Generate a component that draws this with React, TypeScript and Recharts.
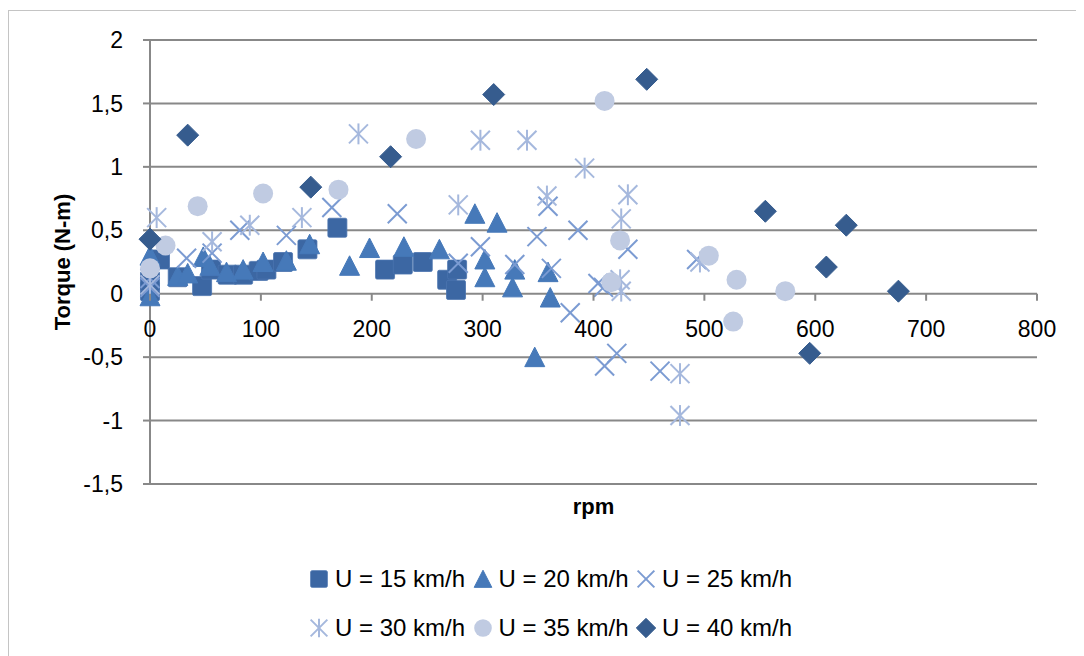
import React from 'react';
import { ScatterChart, Scatter, XAxis, YAxis, CartesianGrid, Legend } from 'recharts';

// ---- data (rpm, torque in N-m) ----
const rpm15 = [0, 0, 9, 25, 47, 55, 70, 84, 98, 105, 120, 142, 169, 212, 228, 246, 268, 276, 277];
const torque15 = [0.02, 0.1, 0.27, 0.13, 0.06, 0.19, 0.15, 0.15, 0.18, 0.19, 0.25, 0.35, 0.52, 0.19, 0.23, 0.25, 0.11, 0.03, 0.19];

const rpm20 = [0, 0, 25, 34, 48, 54, 69, 84, 102, 123, 144, 180, 198, 229, 261, 293, 302, 302, 313, 327, 329, 347, 359, 361];
const torque20 = [-0.02, 0.3, 0.14, 0.16, 0.29, 0.22, 0.17, 0.19, 0.25, 0.26, 0.39, 0.22, 0.36, 0.37, 0.35, 0.63, 0.13, 0.27, 0.56, 0.05, 0.19, -0.5, 0.17, -0.03];

const rpm25 = [0, 0, 33, 56, 81, 123, 164, 223, 278, 298, 329, 349, 359, 362, 379, 386, 404, 409, 410, 421, 431, 460, 493];
const torque25 = [0.05, 0.12, 0.28, 0.32, 0.5, 0.46, 0.68, 0.63, 0.24, 0.37, 0.23, 0.45, 0.69, 0.2, -0.15, 0.5, 0.08, 0.05, -0.57, -0.47, 0.35, -0.61, 0.27];

const rpm30 = [0, 6, 56, 90, 137, 188, 278, 298, 340, 358, 392, 424, 425, 425, 431, 478, 478, 496];
const torque30 = [0.07, 0.6, 0.41, 0.54, 0.6, 1.26, 0.7, 1.21, 1.21, 0.77, 0.99, 0.11, 0.02, 0.59, 0.78, -0.63, -0.96, 0.25];

const rpm35 = [0, 14, 43, 102, 170, 240, 410, 416, 424, 504, 526, 529, 573];
const torque35 = [0.2, 0.38, 0.69, 0.79, 0.82, 1.22, 1.52, 0.09, 0.42, 0.3, -0.22, 0.11, 0.02];

const rpm40 = [0, 34, 145, 217, 310, 448, 555, 595, 610, 628, 675];
const torque40 = [0.43, 1.25, 0.84, 1.08, 1.57, 1.69, 0.65, -0.47, 0.21, 0.54, 0.02];

const seriesNames = ['U = 15 km/h', 'U = 20 km/h', 'U = 25 km/h', 'U = 30 km/h', 'U = 35 km/h', 'U = 40 km/h'];
const seriesColors = ['#3C67A3', '#4679B9', '#7B9BD2', '#A5B8DD', '#C0CBE2', '#365C8E'];
const seriesShapes = ['square', 'triangle', 'x', 'asterisk', 'circle', 'diamond'];
const seriesRpm = [rpm15, rpm20, rpm25, rpm30, rpm35, rpm40];
const seriesTorque = [torque15, torque20, torque25, torque30, torque35, torque40];

const xTicks = [0, 100, 200, 300, 400, 500, 600, 700, 800];
const yTicks = [-1.5, -1, -0.5, 0, 0.5, 1, 1.5, 2];

const FONT = '"Liberation Sans", Arial, sans-serif';
const GRID = '#888888';
const PLOT_H = 444;
const ZERO_FROM_BOTTOM = (PLOT_H * 1.5) / 3.5;

function Marker({ kind, cx, cy, color, s = 1 }: { kind: string; cx: number; cy: number; color: string; s?: number }) {
  switch (kind) {
    case 'square': {
      const h = 9.5 * s;
      return <rect x={cx - h} y={cy - h} width={2 * h} height={2 * h} rx={1.5} fill={color} stroke="#4A74AE" strokeWidth={0.8} />;
    }
    case 'triangle': {
      const h = 10 * s;
      return <polygon points={`${cx},${cy - h} ${cx + h},${cy + h * 0.95} ${cx - h},${cy + h * 0.95}`} fill={color} stroke={color} strokeWidth={1} strokeLinejoin="round" />;
    }
    case 'x': {
      const h = 9.5 * s;
      return (
        <g stroke={color} strokeWidth={2}>
          <line x1={cx - h} y1={cy - h} x2={cx + h} y2={cy + h} />
          <line x1={cx - h} y1={cy + h} x2={cx + h} y2={cy - h} />
        </g>
      );
    }
    case 'asterisk': {
      const h = 9.5 * s;
      return (
        <g stroke={color} strokeWidth={2}>
          <line x1={cx - h} y1={cy - h} x2={cx + h} y2={cy + h} />
          <line x1={cx - h} y1={cy + h} x2={cx + h} y2={cy - h} />
          <line x1={cx} y1={cy - h * 1.1} x2={cx} y2={cy + h * 1.1} />
        </g>
      );
    }
    case 'circle':
      return <circle cx={cx} cy={cy} r={10 * s} fill={color} />;
    case 'diamond': {
      const h = 11 * s;
      return <polygon points={`${cx},${cy - h} ${cx + h},${cy} ${cx},${cy + h} ${cx - h},${cy}`} fill={color} stroke={color} strokeWidth={1} strokeLinejoin="round" />;
    }
    default:
      return null;
  }
}

const fmt = (v: number) => String(v).replace('.', ',');

const XTick = (props: any) => {
  const { x, y, payload } = props;
  const zeroY = y - ZERO_FROM_BOTTOM;
  return (
    <g>
      <line x1={x} x2={x} y1={zeroY} y2={zeroY + 7} stroke={GRID} strokeWidth={2} />
      <text x={x} y={zeroY + 35} textAnchor="middle" dominantBaseline="central" fontSize={23} fill="#000" fontFamily={FONT}>
        {fmt(payload.value)}
      </text>
    </g>
  );
};

const LegendContent = () => (
  <div style={{ paddingLeft: 300, paddingTop: 3, fontFamily: FONT, fontSize: 24, color: '#000' }}>
    {[0, 1].map((row) => (
      <div key={row} style={{ display: 'flex', height: 49, alignItems: 'center' }}>
        {[0, 1, 2].map((c) => {
          const i = row * 3 + c;
          return (
            <div key={i} style={{ display: 'flex', alignItems: 'center', width: 163.5, whiteSpace: 'nowrap' }}>
              <svg width={20} height={20} style={{ flex: 'none' }}>
                <Marker kind={seriesShapes[i]} cx={10} cy={10} color={seriesColors[i]} s={0.88} />
              </svg>
              <span style={{ marginLeft: 6 }}>{seriesNames[i]}</span>
            </div>
          );
        })}
      </div>
    ))}
  </div>
);

export default function App() {
  return (
    <div style={{ position: 'relative', top: 2, width: 1067, height: 650, border: '1px solid #C4C4C4', background: '#fff', fontFamily: FONT }}>
      <style>{`html,body{overflow:hidden}`}</style>
      <ScatterChart width={1066} height={645} margin={{ top: 29, right: 38, bottom: 0, left: 0 }}>
        <CartesianGrid horizontal vertical={false} stroke={GRID} strokeWidth={2} />
        <XAxis
          type="number"
          dataKey="x"
          domain={[0, 800]}
          ticks={xTicks}
          height={67}
          axisLine={false}
          tickLine={false}
          tickSize={0}
          tickMargin={0}
          tick={<XTick />}
          interval={0}
          label={{ value: 'rpm', position: 'insideTop', offset: 14, style: { fontWeight: 'bold', fontSize: 22, fill: '#000', fontFamily: FONT } }}
        />
        <YAxis
          type="number"
          dataKey="y"
          domain={[-1.5, 2]}
          ticks={yTicks}
          width={141}
          interval={0}
          tickFormatter={fmt}
          axisLine={{ stroke: GRID, strokeWidth: 2 }}
          tickLine={{ stroke: GRID, strokeWidth: 2 }}
          tickSize={7}
          tickMargin={20}
          tick={{ fontSize: 23, fill: '#000', fontFamily: FONT }}
          label={{ value: 'Torque (N-m)', angle: -90, position: 'insideLeft', offset: 53, style: { textAnchor: 'middle', fontWeight: 'bold', fontSize: 22, fill: '#000', fontFamily: FONT } }}
        />
        <Legend
          verticalAlign="bottom"
          content={<LegendContent />}
          wrapperStyle={{ top: 540, left: 0, width: 1066, height: 105 }}
        />
        {seriesNames.map((name, si) => (
          <Scatter
            key={name}
            name={name}
            data={seriesRpm[si].map((r, k) => ({ x: r, y: seriesTorque[si][k] }))}
            fill={seriesColors[si]}
            isAnimationActive={false}
            shape={(p: any) => <Marker kind={seriesShapes[si]} cx={p.cx} cy={p.cy} color={seriesColors[si]} />}
          />
        ))}
      </ScatterChart>
    </div>
  );
}
